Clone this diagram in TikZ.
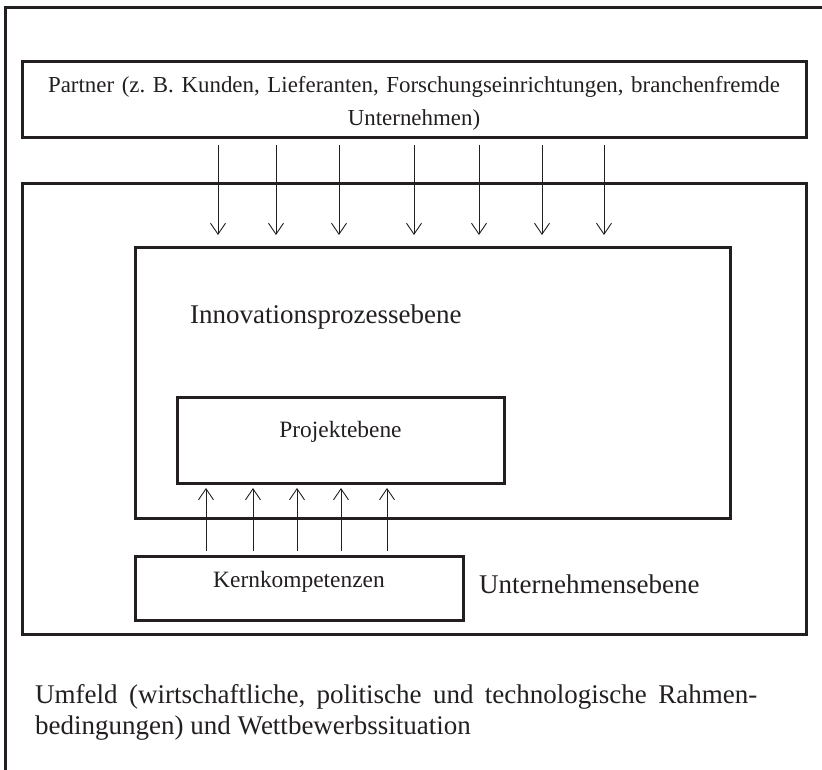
\documentclass[tikz,border=0pt]{standalone}
\usepackage{fontspec}
\setmainfont{Liberation Serif}
\usepackage{tikz}
\usetikzlibrary{arrows.meta}
\definecolor{ink}{RGB}{35,31,32}
\tikzset{
	ebene/.style={draw=ink, line width=3pt, outer sep=0pt, inner sep=0pt, anchor=north west},
	pfeil/.style={draw=ink, line width=.9pt, -{Straight Barb[length=11pt, width=15pt, line width=.9pt]}},
	klein/.style={text=ink, inner sep=0pt, font=\fontsize{23.4}{33}\selectfont},
	gross/.style={text=ink, inner sep=0pt, font=\fontsize{27}{31}\selectfont}
}
\frenchspacing

\begin{document}
\begin{tikzpicture}[x=1pt, y=-1pt]
	\useasboundingbox (0,0) rectangle (822,769);
	\clip (0,0) rectangle (822,769);
	\draw[ink, line width=3pt] (5,800) -- (5,7) -- (850,7);
		\node[ebene, minimum width=784pt, minimum height=76pt] (partner) at (22,61) {};
		\node[ebene, minimum width=784pt, minimum height=451pt] (unternehmen) at (22,183) {};
		\node[ebene, minimum width=595pt, minimum height=271pt] (innov) at (135,247) {};
		\node[ebene, minimum width=327pt, minimum height=86pt] (projekt) at (177,397) {};
		\node[ebene, minimum width=328pt, minimum height=64pt] (kern) at (135,556) {};
			\node[klein, font=\fontsize{22.9}{33}\selectfont, align=center, text width=770pt] (partnertext) at (414,103) {Partner (z. B. Kunden, Lieferanten, Forschungseinrichtungen, branchenfremde\\ Unternehmen)};
			\node[gross, anchor=base west] (innovtext) at (190,323) {Innovationsprozessebene};
			\node[klein, anchor=base] (projekttext) at (projekt.center |- 0,437) {Projektebene};
			\node[klein, anchor=base] (kerntext) at (kern.center |- 0,587) {Kernkompetenzen};
			\node[gross, anchor=base west] (unternehmentext) at (479,593) {Unternehmensebene};
			\node[gross, anchor=north west, text width=722pt, align=justify] (umfeldtext) at (35,684) {Umfeld (wirtschaftliche, politische und technologische Rahmen-\linebreak bedingungen) und Wettbewerbssituation};
				\foreach \x [count=\i] in {218, 276, 339, 414, 479, 542, 604} {
					\coordinate (oben\i) at (\x,145);
					\coordinate (unten\i) at (\x,235);
					\draw[pfeil] (oben\i) -- (unten\i);
				}
				\foreach \x [count=\i] in {206, 253, 297, 341, 387} {
					\coordinate (kfuss\i) at (\x,551);
					\coordinate (kspitze\i) at (\x,488);
					\draw[pfeil] (kfuss\i) -- (kspitze\i);
				}
\end{tikzpicture}
\end{document}
